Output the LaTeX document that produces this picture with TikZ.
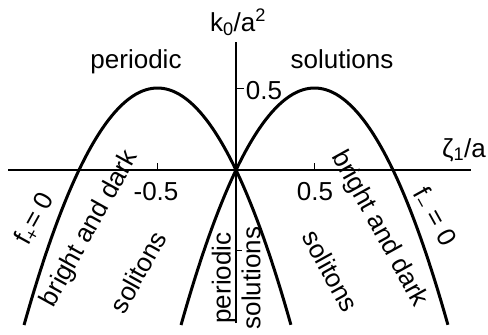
\documentclass[tikz,border=0pt]{standalone}
\usepackage{fontspec}
\setmainfont{Liberation Sans}
\begin{document}
\begin{tikzpicture}[x=1pt,y=-1pt,
  lbl/.style={font=\fontsize{26}{30}\selectfont, inner sep=0pt},
  curve/.style={line width=3pt},
  axis/.style={line width=2pt},
  tickmark/.style={line width=1pt}]
\useasboundingbox (0,0) rectangle (488,335);
\coordinate (O) at (236,170);
\coordinate (xl) at (8,170);
\coordinate (xr) at (471,170);
\coordinate (yt) at (236,42);
\coordinate (yb) at (236,323);
\coordinate (tm) at (157,170);
\coordinate (tp) at (314,170);
\coordinate (tk) at (236,88);
\coordinate (tkm) at (236,250);
% axes
\draw[axis] (xl) -- (xr);
\draw[axis] (yb) -- (yt);
% ticks
\draw[tickmark] (tm) -- ++(0,-7);
\draw[tickmark] (tp) -- ++(0,-7);
\draw[tickmark] (tk) -- ++(8,0);
\draw[tickmark] (tkm) -- ++(6,0);
% curves
\begin{scope}[shift={(O)}, x=157pt, y=164pt]
\draw[curve, domain=-1.35:0.35, samples=80] plot (\x, {-2*\x*(\x+1)});
\draw[curve, domain=-0.35:1.35, samples=80] plot (\x, {2*\x*(1-\x)});
\end{scope}
% labels
\node[lbl, anchor=base] (ylab) at (238,31) {k\textsubscript{0}/a\textsuperscript{2}};
\node[lbl, anchor=base] (xlab) at (464,157) {ζ\textsubscript{1}/a};
\node[lbl, anchor=base] (per) at (136,68) {periodic};
\node[lbl, anchor=base] (sol) at (342,68) {solutions};
\node[lbl, anchor=base] (yhalf) at (264,99) {0.5};
\node[lbl, anchor=base] (xmhalf) at (156,200) {-0.5};
\node[lbl, anchor=base] (xphalf) at (315,200) {0.5};
\node[lbl, rotate=61] (fp) at (35,219) {f\textsubscript{+}= 0};
\node[lbl, rotate=61] (bdl) at (90,229) {bright and dark};
\node[lbl, rotate=61] (sll) at (138,272) {solitons};
\node[lbl, rotate=-61] (bdr) at (379,229) {bright and dark};
\node[lbl, rotate=-61] (slr) at (331,271) {solitons};
\node[lbl, rotate=-61] (fm) at (434,217) {f\textsubscript{−} = 0};
\node[lbl, rotate=90] (pv) at (224,278) {periodic};
\node[lbl, rotate=90] (sv) at (251,278) {solutions};
\end{tikzpicture}
\end{document}
